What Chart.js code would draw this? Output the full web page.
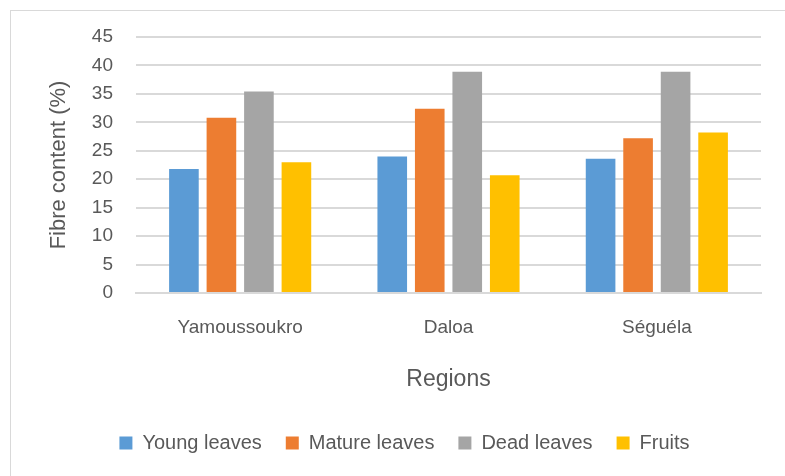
<!DOCTYPE html>
<html>
<head>
<meta charset="utf-8">
<script src="https://cdn.jsdelivr.net/npm/chart.js@4"></script>
<style>
  html, body { margin: 0; padding: 0; background: #ffffff; overflow: hidden; }
  #wrap { position: relative; width: 785px; height: 476px; }
  #frame { position: absolute; left: 10px; top: 10px; width: 900px; height: 600px;
           border-left: 1.5px solid #d9d9d9; border-top: 1.5px solid #d9d9d9; }
  canvas { position: absolute; left: 0; top: 0; }
</style>
</head>
<body>
<div id="wrap">
  <div id="frame"></div>
  <canvas id="chart" width="785" height="476"></canvas>
</div>
<script>
// Fibre content by plant part in each region
const categories = ['Yamoussoukro', 'Daloa', 'Séguéla'];
const youngLeaves  = [21.8, 24.0, 23.6];
const matureLeaves = [30.8, 32.4, 27.2];
const deadLeaves   = [35.4, 38.9, 38.9];
const fruits       = [23.0, 20.7, 28.2];
const seriesNames  = ['Young leaves', 'Mature leaves', 'Dead leaves', 'Fruits'];
const seriesColors = ['#5B9BD5', '#ED7D31', '#A5A5A5', '#FFC000'];
const yTicks = { min: 0, max: 45, step: 5 };

const textColor = '#595959';
const fontFamily = '"Liberation Sans", Arial, sans-serif';

const seriesValues = [youngLeaves, matureLeaves, deadLeaves, fruits];
const datasets = seriesNames.map((name, i) => ({
  label: name,
  data: seriesValues[i],
  backgroundColor: seriesColors[i],
  borderWidth: 0,
  categoryPercentage: 0.72,
  barPercentage: 0.79
}));

new Chart(document.getElementById('chart'), {
  type: 'bar',
  data: { labels: categories, datasets },
  options: {
    responsive: false,
    animation: false,
    devicePixelRatio: 1,
    layout: { padding: { left: 48, right: 24, top: 37, bottom: 13 } },
    plugins: {
      tooltip: { enabled: false },
      legend: {
        position: 'bottom',
        labels: {
          boxWidth: 13,
          boxHeight: 13,
          padding: 24,
          color: textColor,
          font: { family: fontFamily, size: 20 }
        }
      }
    },
    scales: {
      x: {
        grid: { display: false, drawTicks: false },
        border: { display: true, color: '#d9d9d9', width: 2 },
        ticks: { color: textColor, padding: 23, font: { family: fontFamily, size: 19 } },
        title: {
          display: true, text: 'Regions', color: textColor,
          font: { family: fontFamily, size: 23 }, padding: { top: 0, bottom: 16 }
        },
        afterFit: (scale) => { scale.height = 116; }
      },
      y: {
        min: yTicks.min,
        max: yTicks.max,
        grid: { color: '#d9d9d9', lineWidth: 2, drawTicks: false },
        border: { display: false },
        ticks: {
          stepSize: yTicks.step, color: textColor, padding: 23,
          font: { family: fontFamily, size: 19 }
        },
        title: {
          display: true, text: 'Fibre content (%)', color: textColor,
          font: { family: fontFamily, size: 22, lineHeight: 1 }, padding: 0
        },
        afterFit: (scale) => { scale.width = 88; }
      }
    }
  }
});
</script>
</body>
</html>
